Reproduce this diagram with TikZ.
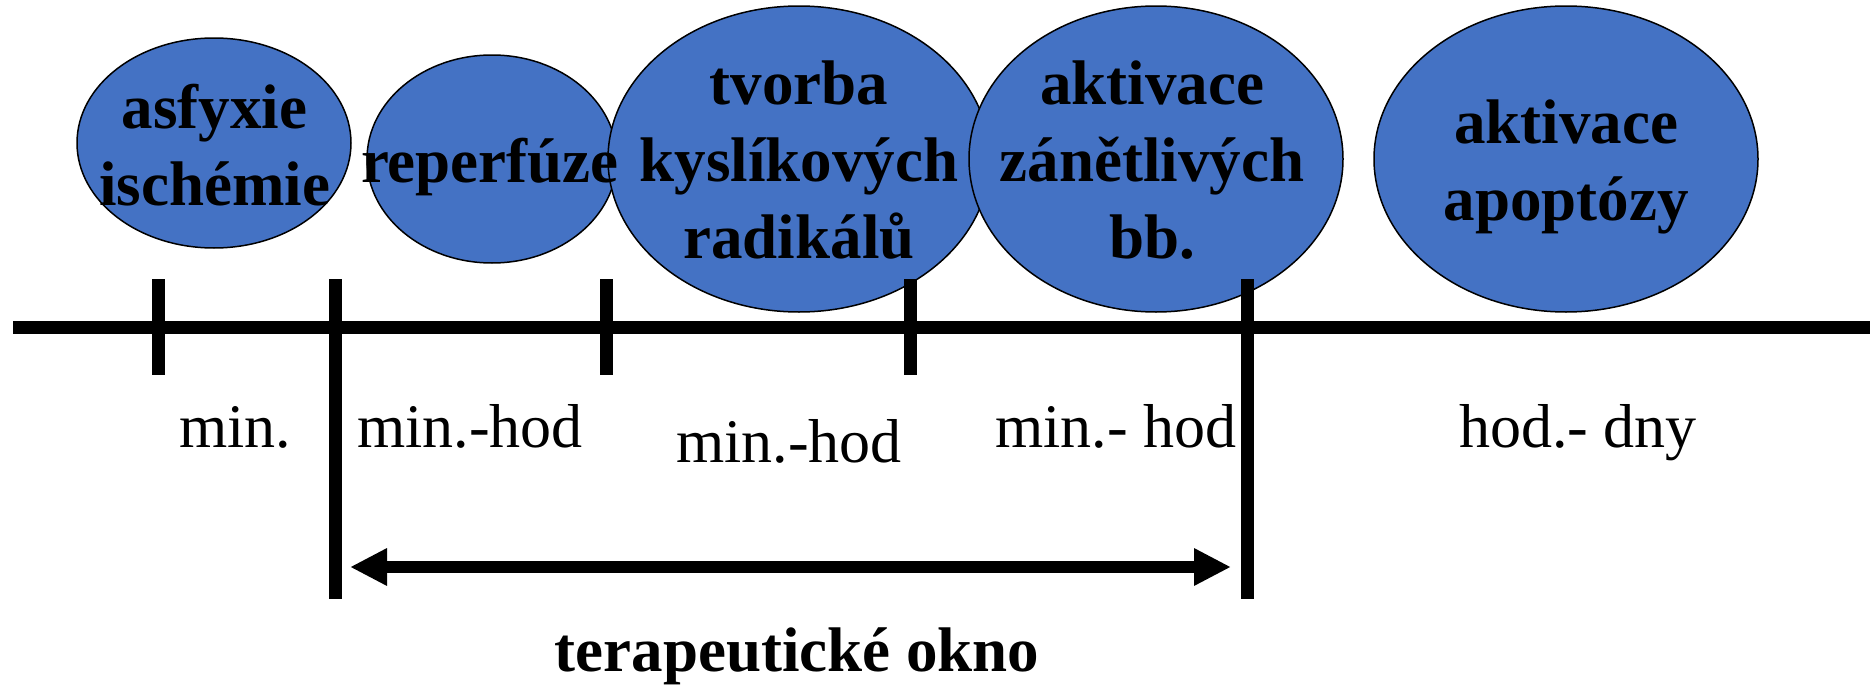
\documentclass[tikz,border=0pt]{standalone}
\usepackage{fontspec}
\setmainfont{Liberation Serif}
\usetikzlibrary{shapes.geometric,arrows.meta}
\definecolor{ellblue}{HTML}{4472C4}
\begin{document}
\begin{tikzpicture}[x=0.5pt,y=-0.5pt,
  bubble/.style={ellipse,draw=black,line width=0.75pt,fill=ellblue,inner sep=0pt},
  btxt/.style={font=\fontsize{31.5}{38.5}\selectfont\bfseries,align=center,inner sep=0pt,anchor=base},
  rtxt/.style={font=\fontsize{31}{37}\selectfont,inner sep=0pt,anchor=base},
  bar/.style={line width=6.5pt},
  dblarrow/.style={line width=6pt,{Triangle[length=18.5pt,width=17.5pt]}-{Triangle[length=18.5pt,width=17.5pt]}}
  ]
\useasboundingbox (0,0) rectangle (1870,685);
% axis
\coordinate (axL) at (13,327);
\coordinate (axR) at (1870,327);
\draw[bar] (axL) -- (axR);
% bubbles
\node[bubble,minimum width=137pt,minimum height=105pt] (e1) at (214,143) {};
\node[bubble,minimum width=125pt,minimum height=104pt] (e2) at (492,159) {};
\node[bubble,minimum width=191pt,minimum height=153pt] (e3) at (799,159) {};
\node[bubble,minimum width=187pt,minimum height=153pt] (e4) at (1156,159) {};
\node[bubble,minimum width=192pt,minimum height=153pt] (e5) at (1566,159) {};
% ticks
\foreach \n/\x/\yb in {t1/158/375, t2/335/599, t3/606/375, t4/910/375, t5/1247/599}{
  \coordinate (\n top) at (\x,279);
  \coordinate (\n bot) at (\x,\yb);
  \draw[bar] (\n top) -- (\n bot);
}
% bubble texts (anchor=base is the baseline of the last line)
\node[btxt] (l1) at (214.5,205) {asfyxie\\ischémie};
\node[btxt] (l2) at (490,182) {reperfúze};
\node[btxt] (l3) at (799,258) {tvorba\\kyslíkových\\radikálů};
\node[btxt] (l4) at (1152,258) {aktivace\\zánětlivých\\bb.};
\node[btxt] (l5) at (1566,220) {aktivace\\apoptózy};
% durations
\node[rtxt] (d1) at (235,447) {min.};
\node[rtxt] (d2) at (470,447) {min.-hod};
\node[rtxt] (d3) at (789,462) {min.-hod};
\node[rtxt] (d4) at (1116,447) {min.- hod};
\node[rtxt] (d5) at (1578,447) {hod.- dny};
% therapeutic window
\coordinate (aL) at (350,567);
\coordinate (aR) at (1231,567);
\draw[dblarrow] (aL) -- (aR);
\node[btxt] (tw) at (797,671) {terapeutické okno};
\end{tikzpicture}
\end{document}
